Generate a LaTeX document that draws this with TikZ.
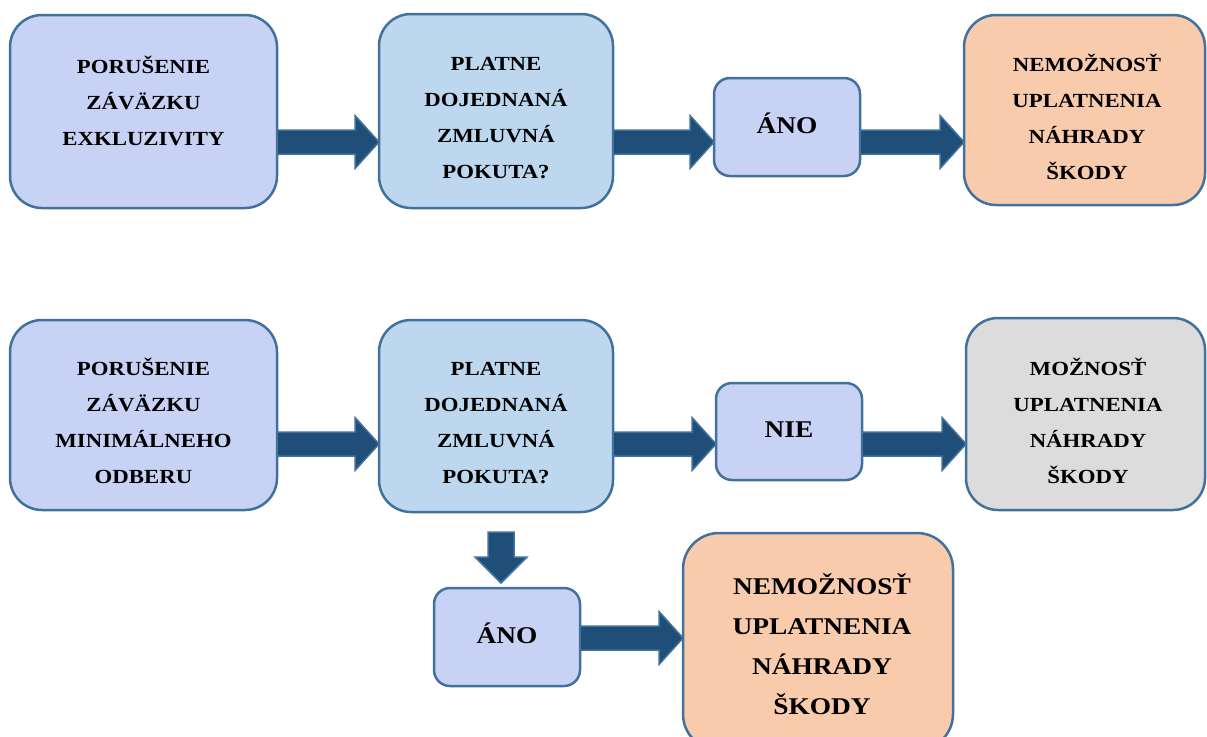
\documentclass[tikz,border=0pt]{standalone}
\usepackage{fontspec}
\setmainfont{Liberation Serif}[FakeStretch=1.14]
\usetikzlibrary{calc}
\definecolor{lav}{HTML}{C8D2F4}
\definecolor{lblue}{HTML}{BDD7EE}
\definecolor{peach}{HTML}{F8CBAD}
\definecolor{lgray}{HTML}{DCDCDC}
\definecolor{edge}{HTML}{41719C}
\definecolor{arrowfill}{HTML}{1F4E79}
\tikzset{
  box/.style={draw=edge, line width=2.5pt, rounded corners=#1, inner sep=0pt, outer sep=0pt},
  txt/.style={align=center, inner sep=0pt, font=\fontsize{20}{36}\selectfont\bfseries},
  bigtxt/.style={align=center, inner sep=0pt, font=\fontsize{24}{40}\selectfont\bfseries},
  fatarrow/.style={fill=arrowfill, draw=edge, line width=1.5pt, line join=miter}
}
% horizontal block arrow from node #1 to node #2 at height #3
\newcommand\harrow[3]{%
  \path[fatarrow] let \p1=(#1.east), \p2=(#2.west) in
    (\x1,#3+12) -- (\x2-24,#3+12) -- (\x2-24,#3+26.5) -- (\x2,#3)
    -- (\x2-24,#3-26.5) -- (\x2-24,#3-12) -- (\x1,#3-12) -- cycle;}
\begin{document}
\begin{tikzpicture}[x=1pt,y=1pt]
\useasboundingbox (0,0) rectangle (1207,-736);
% row 1
\node[box=32, fill=lav, minimum width=267pt, minimum height=193pt] (a1) at (143.5,-111.5) {};
\node[box=32, fill=lblue, minimum width=234pt, minimum height=194pt] (b1) at (496,-111) {};
\node[box=16, fill=lav, minimum width=146pt, minimum height=98pt] (c1) at (787,-127) {};
\node[box=32, fill=peach, minimum width=241pt, minimum height=190pt] (d1) at (1084.5,-110) {};
\node[txt] (a1t) at (143.5,-100.5) {PORUŠENIE\\ZÁVÄZKU\\EXKLUZIVITY};
\node[txt] (b1t) at (496,-118.5) {PLATNE\\DOJEDNANÁ\\ZMLUVNÁ\\POKUTA?};
\node[bigtxt] (c1t) at (787,-123.5) {ÁNO};
\node[txt] (d1t) at (1087,-116.5) {NEMOŽNOSŤ\\UPLATNENIA\\NÁHRADY\\ŠKODY};
\harrow{a1}{b1}{-142}
\harrow{b1}{c1}{-142}
\harrow{c1}{d1}{-142}
% row 2
\node[box=32, fill=lav, minimum width=267pt, minimum height=190pt] (a2) at (143.5,-415) {};
\node[box=32, fill=lblue, minimum width=234pt, minimum height=192pt] (b2) at (496,-416) {};
\node[box=16, fill=lav, minimum width=146pt, minimum height=97pt] (c2) at (789,-431.5) {};
\node[box=32, fill=lgray, minimum width=239pt, minimum height=192pt] (d2) at (1085.5,-414) {};
\node[txt] (a2t) at (143.5,-421) {PORUŠENIE\\ZÁVÄZKU\\MINIMÁLNEHO\\ODBERU};
\node[txt] (b2t) at (496,-423) {PLATNE\\DOJEDNANÁ\\ZMLUVNÁ\\POKUTA?};
\node[bigtxt] (c2t) at (789,-430) {NIE};
\node[txt] (d2t) at (1088,-421) {MOŽNOSŤ\\UPLATNENIA\\NÁHRADY\\ŠKODY};
\harrow{a2}{b2}{-444}
\harrow{b2}{c2}{-444}
\harrow{c2}{d2}{-444}
% row 3
\node[box=16, fill=lav, minimum width=146pt, minimum height=98pt] (c3) at (507,-637) {};
\node[box=36, fill=peach, minimum width=270pt, minimum height=217pt] (d3) at (818,-641.5) {};
\node[bigtxt] (c3t) at (507,-633.5) {ÁNO};
\node[bigtxt] (d3t) at (822,-644.5) {NEMOŽNOSŤ\\UPLATNENIA\\NÁHRADY\\ŠKODY};
\harrow{c3}{d3}{-638}
% down arrow from b2 to c3
\path[fatarrow] let \p1=(b2.south), \p2=(c3.north) in
  (488,\y1-20) -- (514,\y1-20) -- (514,\y2+31) -- (527,\y2+31) -- (501,\y2+5)
  -- (475,\y2+31) -- (488,\y2+31) -- cycle;
\end{tikzpicture}
\end{document}
